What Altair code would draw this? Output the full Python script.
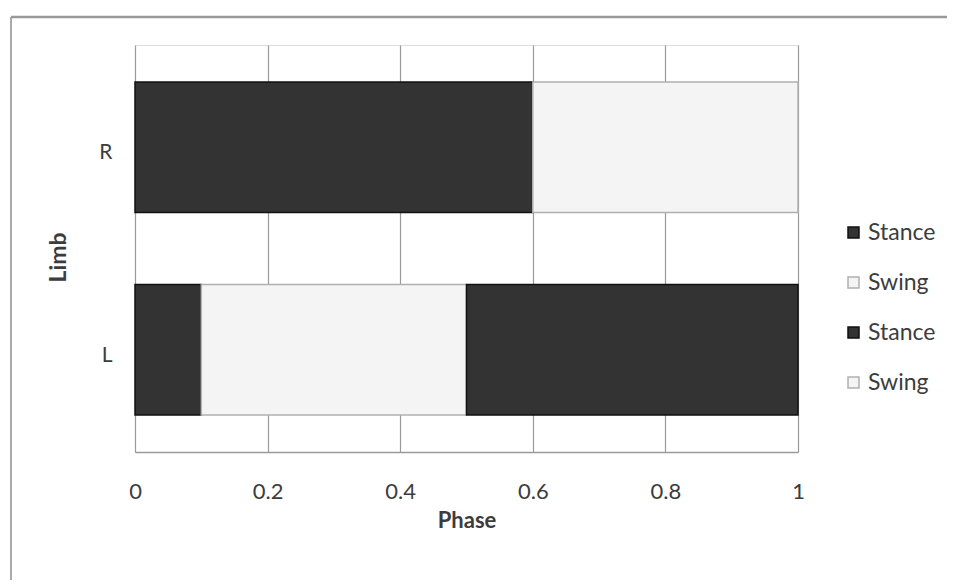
import altair as alt
import pandas as pd

limbs = ["R", "L"]
series_ids = ["Stance_1", "Swing_1", "Stance_2", "Swing_2"]
r_values = [0.6, 0.4, 0.0, 0.0]
l_values = [0.1, 0.4, 0.5, 0.0]
x_ticks = [0, 0.2, 0.4, 0.6, 0.8, 1]
fills = ["#333333", "#f4f4f4", "#333333", "#f4f4f4"]
strokes = ["#111111", "#b0b0b0", "#111111", "#b0b0b0"]

rows = []
for limb, vals in zip(limbs, [r_values, l_values]):
    for i, (s, v) in enumerate(zip(series_ids, vals)):
        if v > 0:
            rows.append({"Limb": limb, "Series": s, "Value": v, "Order": i})
df = pd.DataFrame(rows)

FONT = "Lato"
TXT = "#3c3c3c"

bars = alt.Chart(df).mark_bar(strokeWidth=1.5).encode(
    y=alt.Y("Limb:N", sort=limbs,
            scale=alt.Scale(paddingInner=0.356, paddingOuter=0.183),
            axis=alt.Axis(title="Limb", grid=False, domain=False, ticks=False,
                          labelPadding=23, labelFontSize=21, labelColor=TXT,
                          labelOffset=6,
                          titleFontSize=23, titleFontWeight="bold", titleColor=TXT,
                          titlePadding=28, titleY=212,
                          labelFont=FONT, titleFont=FONT)),
    x=alt.X("Value:Q", stack="zero",
            scale=alt.Scale(domain=[0, 1], nice=False),
            axis=alt.Axis(title="Phase", values=x_ticks, format="~g",
                          grid=True, gridColor="#9a9a9a", gridWidth=1.2,
                          domain=True, domainColor="#9a9a9a", domainWidth=1.5,
                          ticks=False, labelPadding=29, labelFontSize=22,
                          labelColor=TXT, labelFlush=False,
                          titleFontSize=22, titleFontWeight="bold", titleColor=TXT,
                          titlePadding=8, labelFont=FONT, titleFont=FONT)),
    color=alt.Color("Series:N",
                    scale=alt.Scale(domain=series_ids, range=fills),
                    legend=alt.Legend(title=None, orient="none", legendX=707,
                                      legendY=176, labelExpr="split(datum.label, '_')[0]",
                                      symbolType="square", symbolSize=121,
                                      labelFontSize=23, labelColor=TXT, labelFont=FONT,
                                      rowPadding=26, labelOffset=3,
                                      symbolStrokeWidth=1.5)),
    stroke=alt.Stroke("Series:N",
                      scale=alt.Scale(domain=series_ids, range=strokes),
                      legend=None),
    order=alt.Order("Order:Q"),
)

frame_df = pd.DataFrame({"a": [0]})
frame_left = alt.Chart(frame_df).mark_rule(color="#aaaaaa", strokeWidth=2).encode(
    x=alt.value(-124), y=alt.value(-28), y2=alt.value(620))
frame_top = alt.Chart(frame_df).mark_rule(color="#999999", strokeWidth=2.5).encode(
    x=alt.value(-124), x2=alt.value(900), y=alt.value(-28))

chart = alt.layer(bars, frame_left, frame_top).properties(
    width=663, height=407,
    autosize=alt.AutoSizeParams(type="none"),
    padding={"left": 127, "top": 37, "right": 149, "bottom": 128},
).configure_view(stroke=None).configure(background="white")

chart.save("out.html", embed_options={"renderer": "svg", "actions": False})
